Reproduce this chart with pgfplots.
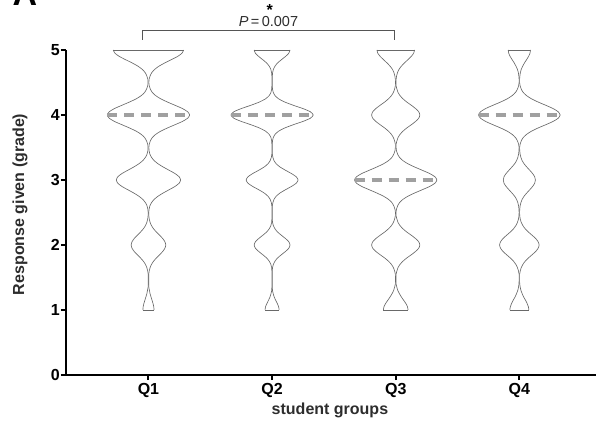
\documentclass[border=0pt]{standalone}
\usepackage{fontspec}
\setmainfont{Liberation Sans}
\usepackage{pgfplots}
\usepackage{pgfplotstable}
\pgfplotsset{compat=1.18}

\definecolor{vio}{RGB}{105,105,105}
\definecolor{med}{RGB}{160,160,160}
\definecolor{brk}{RGB}{85,85,85}
\definecolor{lab}{RGB}{45,45,45}

% half-width of each violin (x units) against response value
\pgfplotstableread{
y    q1    q2    q3    q4
1.00 0.045 0.057 0.100 0.077
1.05 0.043 0.053 0.095 0.073
1.10 0.037 0.042 0.082 0.063
1.15 0.029 0.029 0.064 0.050
1.20 0.021 0.017 0.046 0.035
1.25 0.013 0.009 0.030 0.023
1.30 0.008 0.003 0.017 0.013
1.35 0.003 0.002 0.009 0.007
1.40 0.002 0.002 0.003 0.003
1.45 0.002 0.002 0.002 0.002
1.50 0.002 0.002 0.002 0.002
1.55 0.002 0.002 0.003 0.002
1.60 0.006 0.002 0.009 0.007
1.65 0.013 0.003 0.018 0.015
1.70 0.024 0.010 0.034 0.028
1.75 0.041 0.023 0.058 0.047
1.80 0.064 0.044 0.089 0.073
1.85 0.090 0.075 0.126 0.103
1.90 0.115 0.108 0.160 0.132
1.95 0.133 0.135 0.186 0.152
2.00 0.140 0.145 0.195 0.160
2.05 0.133 0.135 0.186 0.152
2.10 0.115 0.108 0.160 0.132
2.15 0.090 0.075 0.126 0.103
2.20 0.064 0.044 0.089 0.073
2.25 0.041 0.023 0.058 0.047
2.30 0.024 0.010 0.034 0.028
2.35 0.013 0.003 0.018 0.015
2.40 0.006 0.002 0.009 0.007
2.45 0.003 0.002 0.003 0.003
2.50 0.002 0.002 0.002 0.002
2.55 0.005 0.002 0.006 0.003
2.60 0.011 0.002 0.015 0.006
2.65 0.024 0.006 0.030 0.012
2.70 0.045 0.015 0.057 0.022
2.75 0.077 0.033 0.098 0.038
2.80 0.119 0.064 0.153 0.060
2.85 0.167 0.108 0.214 0.084
2.90 0.214 0.156 0.274 0.107
2.95 0.248 0.195 0.317 0.124
3.00 0.260 0.210 0.333 0.130
3.05 0.248 0.195 0.317 0.124
3.10 0.214 0.156 0.274 0.107
3.15 0.167 0.108 0.214 0.084
3.20 0.119 0.064 0.153 0.060
3.25 0.077 0.033 0.098 0.038
3.30 0.045 0.015 0.057 0.022
3.35 0.024 0.006 0.030 0.012
3.40 0.011 0.002 0.015 0.006
3.45 0.005 0.002 0.006 0.003
3.50 0.003 0.002 0.003 0.002
3.55 0.006 0.002 0.003 0.006
3.60 0.015 0.003 0.009 0.015
3.65 0.030 0.009 0.018 0.030
3.70 0.057 0.023 0.034 0.057
3.75 0.098 0.052 0.058 0.097
3.80 0.153 0.102 0.089 0.151
3.85 0.214 0.171 0.126 0.213
3.90 0.274 0.248 0.160 0.272
3.95 0.317 0.309 0.186 0.314
4.00 0.333 0.333 0.195 0.330
4.05 0.317 0.309 0.186 0.314
4.10 0.274 0.248 0.160 0.272
4.15 0.214 0.171 0.126 0.213
4.20 0.153 0.102 0.089 0.151
4.25 0.098 0.052 0.058 0.097
4.30 0.057 0.023 0.034 0.057
4.35 0.030 0.009 0.018 0.030
4.40 0.015 0.003 0.009 0.015
4.45 0.006 0.002 0.003 0.006
4.50 0.003 0.002 0.002 0.002
4.55 0.005 0.002 0.003 0.002
4.60 0.013 0.002 0.007 0.004
4.65 0.026 0.004 0.014 0.008
4.70 0.049 0.010 0.026 0.015
4.75 0.084 0.023 0.045 0.027
4.80 0.131 0.044 0.070 0.041
4.85 0.184 0.075 0.098 0.058
4.90 0.235 0.108 0.125 0.074
4.95 0.271 0.135 0.145 0.086
5.00 0.285 0.145 0.152 0.090
}\vio

\begin{document}
\begin{tikzpicture}
\useasboundingbox (0,0) rectangle (597bp,423bp);
\node[anchor=base west,font=\fontsize{34bp}{34bp}\selectfont\bfseries] at (9bp,417bp) {A};
\begin{axis}[
  at={(66bp,48bp)}, anchor=south west,
  scale only axis, width=530bp, height=325bp,
  xmin=0.333, xmax=4.62, ymin=0, ymax=5,
  axis x line*=bottom, axis y line*=left,
  axis line style={line width=2.6bp,black,-},
  xtick={1,2,3,4}, xticklabels={Q1,Q2,Q3,Q4},
  ytick={0,1,2,3,4,5},
  tick align=outside, major tick length=5bp,
  tick style={line width=2bp,black},
  /pgf/number format/assume math mode=true,
  tick label style={font=\fontsize{16bp}{16bp}\selectfont\bfseries},
  yticklabel style={inner sep=1pt},
  xlabel={student groups},
  ylabel={Response given (grade)},
  label style={font=\fontsize{16bp}{16bp}\selectfont\bfseries,text=lab},
  xlabel style={at={(axis description cs:0.498,-0.123)},anchor=base},
  ylabel style={at={(axis description cs:-0.0868,0.525)},anchor=center},
  clip=false,
  vside/.style={vio,line width=0.65bp,smooth,tension=0.4,no markers},
  vedge/.style={vio,line width=0.65bp,no markers},
  median/.style={med,line width=4bp,dash pattern=on 10bp off 7bp,no markers},
]
% Q1
\addplot[vside] table[x expr=1+\thisrow{q1},y=y] {\vio};
\addplot[vside] table[x expr=1-\thisrow{q1},y=y] {\vio};
\addplot[vedge] coordinates {(0.715,5) (1.285,5)};
\addplot[vedge] coordinates {(0.955,1) (1.045,1)};
% Q2
\addplot[vside] table[x expr=2+\thisrow{q2},y=y] {\vio};
\addplot[vside] table[x expr=2-\thisrow{q2},y=y] {\vio};
\addplot[vedge] coordinates {(1.855,5) (2.145,5)};
\addplot[vedge] coordinates {(1.943,1) (2.057,1)};
% Q3
\addplot[vside] table[x expr=3+\thisrow{q3},y=y] {\vio};
\addplot[vside] table[x expr=3-\thisrow{q3},y=y] {\vio};
\addplot[vedge] coordinates {(2.848,5) (3.152,5)};
\addplot[vedge] coordinates {(2.900,1) (3.100,1)};
% Q4
\addplot[vside] table[x expr=4+\thisrow{q4},y=y] {\vio};
\addplot[vside] table[x expr=4-\thisrow{q4},y=y] {\vio};
\addplot[vedge] coordinates {(3.910,5) (4.090,5)};
\addplot[vedge] coordinates {(3.923,1) (4.077,1)};
% medians
\addplot[median] coordinates {(0.667,4) (1.333,4)};
\addplot[median] coordinates {(1.667,4) (2.333,4)};
\addplot[median] coordinates {(2.667,3) (3.333,3)};
\addplot[median] coordinates {(3.670,4) (4.330,4)};
% significance bracket Q1 vs Q3
\addplot[brk,line width=1.2bp,no markers] coordinates {(0.951,5.154) (0.951,5.297) (2.990,5.297) (2.990,5.154)};
\node[anchor=base,font=\fontsize{14.5bp}{14.5bp}\selectfont,text=lab] at (axis cs:1.971,5.354) {\textit{P}\,=\,0.007};
\node[anchor=base,font=\fontsize{16bp}{16bp}\selectfont\bfseries] at (axis cs:1.98,5.53) {*};
\end{axis}
\end{tikzpicture}
\end{document}
